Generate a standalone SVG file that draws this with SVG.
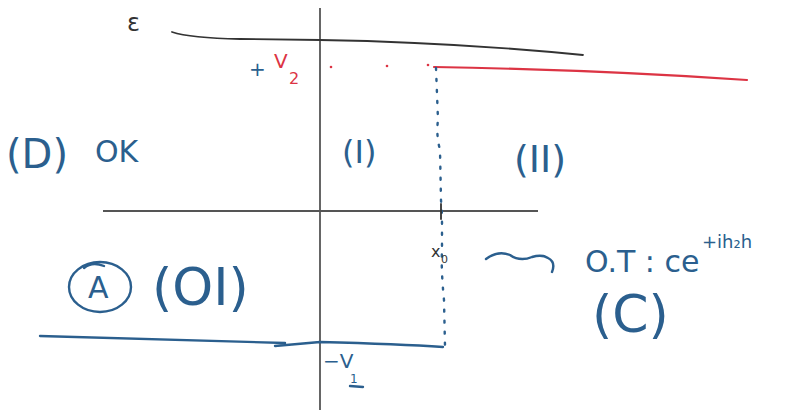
<svg xmlns="http://www.w3.org/2000/svg" width="799" height="412" viewBox="0 0 799 412">
<style>
.b{fill:none;stroke:#2b5f8e;stroke-width:2.4;stroke-linecap:round;stroke-linejoin:round}
.r{fill:none;stroke:#dc3444;stroke-width:2.2;stroke-linecap:round}
.k{fill:none;stroke:#333;stroke-width:1.8;stroke-linecap:round}
.ax{fill:none;stroke:#555;stroke-width:1.8}
.tb{fill:#2b5f8e;font-family:"DejaVu Sans",sans-serif}
.tr{fill:#dc3444;font-family:"DejaVu Sans",sans-serif}
.tk{fill:#333;font-family:"DejaVu Sans",sans-serif}
</style>
<rect width="799" height="412" fill="#fff"/>
<!-- axes -->
<path class="ax" d="M320,8 L320,410"/>
<path class="ax" d="M103,211 L538,211"/>
<!-- epsilon curve -->
<text class="tk" x="127" y="31" font-size="24">ε</text>
<path class="k" d="M172,32 Q190,38 240,39 L320,40 Q450,42 583,55"/>
<!-- +V2 -->
<text class="tb" x="249" y="76" font-size="20">+</text>
<text class="tr" x="274" y="68" font-size="20">V</text>
<text class="tr" x="289" y="84" font-size="16">2</text>
<circle cx="331" cy="67" r="1.3" fill="#dc3444"/>
<circle cx="387" cy="66" r="1.3" fill="#dc3444"/>
<circle cx="428" cy="65" r="1.3" fill="#dc3444"/>
<path class="r" d="M434,67 Q600,70 747,80"/>
<!-- dotted vertical -->
<path class="b" stroke-dasharray="2 9" d="M436,68 L438,120 Q436,135 440,150 L441,200 L442,215 L442,250 Q441,270 444,300 L445,346"/>
<path class="k" d="M441,204 L441,219"/>
<!-- labels -->
<text class="tb" x="6" y="168" font-size="40">(D)</text>
<text class="tb" x="95" y="162" font-size="30">OK</text>
<text class="tb" x="342" y="163" font-size="32">(I)</text>
<text class="tb" x="514" y="172" font-size="38">(II)</text>
<!-- x0 -->
<text class="tk" x="431" y="257" font-size="16">x</text>
<text class="tk" x="441" y="263" font-size="11">0</text>
<!-- squiggle arrow -->
<path class="b" d="M486,259 Q498,250 510,255 Q520,262 532,257 Q542,254 548,258 Q556,262 552,272"/>
<text class="tb" x="585" y="272" font-size="30">O.T : ce</text>
<text class="tb" x="702" y="248" font-size="18">+ih₂h</text>
<!-- C -->
<text class="tb" x="592" y="332" font-size="52">(C)</text>
<!-- A circled -->
<ellipse class="b" cx="100" cy="287" rx="31" ry="25"/>
<path class="b" d="M84,268 Q92,261 104,266"/>
<text class="tb" x="88" y="298" font-size="30">A</text>
<text class="tb" x="152" y="305" font-size="52">(OI)</text>
<!-- bottom blue line -->
<path class="b" d="M40,336 L285,343 M275,346 L320,342 Q400,344 443,347"/>
<text class="tb" x="323" y="368" font-size="20">−V</text>
<text class="tb" x="350" y="383" font-size="12">1</text>
<path class="b" d="M350,386 L363,387"/>
</svg>
